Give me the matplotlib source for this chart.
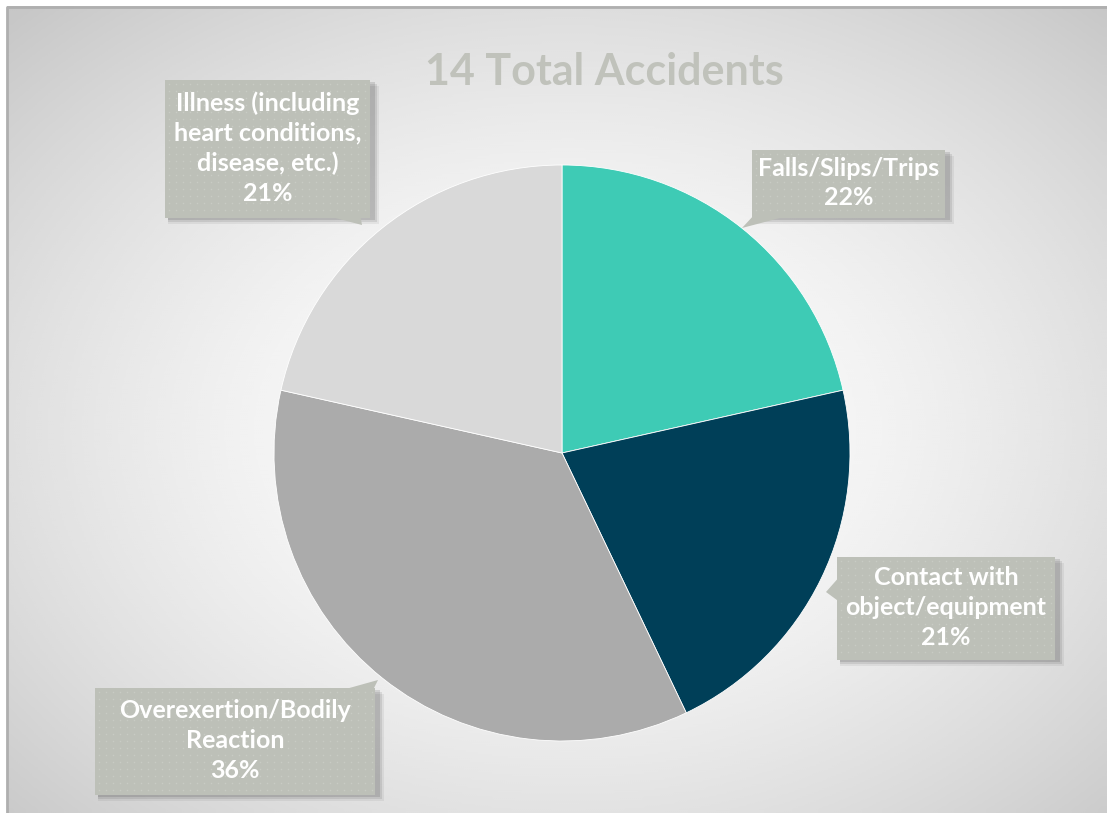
import matplotlib.pyplot as plt
import numpy as np
from matplotlib.patches import Rectangle, Polygon

title = '14 Total Accidents'
categories = ['Falls/Slips/Trips', 'Contact with\nobject/equipment',
              'Overexertion/Bodily\nReaction',
              'Illness (including\nheart conditions,\ndisease, etc.)']
shares = [21.5, 21.4, 35.6, 21.5]      # slice sizes
pct_labels = ['22%', '21%', '36%', '21%']
colors = ['#3ECBB5', '#003F58', '#ABABAB', '#D9D9D9']

W, H = 1107, 813
plt.rcParams['font.family'] = ['Lato', 'DejaVu Sans']

fig = plt.figure(figsize=(W / 100, H / 100), dpi=100)
ax = fig.add_axes([0, 0, 1, 1])

# radial background
yy, xx = np.mgrid[0:400, 0:550]
cx, cy = 280, 210
d = np.sqrt(((xx - cx) / 550) ** 2 + ((yy - cy) / 400) ** 2) / 0.72
d = np.clip(d, 0, 1)
bg = 1.0 - 0.22 * d ** 1.6
ax.imshow(bg, cmap='gray', vmin=0, vmax=1, extent=(7, W, 0, H - 7),
          interpolation='bicubic', zorder=0)
ax.plot([7, 7, W], [0, H - 7, H - 7], color='#AFAFAF', lw=2, zorder=1)

# pie, pixel coords with y up
cxp, cyp, r = 562, H - 453, 288
ax.pie(shares, colors=colors, startangle=90, counterclock=False,
       center=(cxp, cyp), radius=r,
       wedgeprops=dict(edgecolor='white', linewidth=0.6))

ax.text(604, H - 72, title, ha='center', va='center', fontsize=31,
        fontweight='bold', color='#C0C2BB')

# label boxes: (x0, y0, x1, y1) in pixels from top, pointer triangle
boxes = [
    ((752, 150, 945, 218), [(755, 214), (795, 214), (742, 228)]),
    ((837, 557, 1055, 660), [(841, 575), (841, 603), (826, 592)]),
    ((95, 688, 375, 795), [(335, 692), (372, 692), (378, 680)]),
    ((165, 80, 370, 218), [(320, 214), (360, 214), (362, 225)]),
]
box_col = '#BDC0B8'
for (x0, y0, x1, y1), tri in boxes:
    for k, a in [(6, 0.08), (4, 0.12), (2, 0.16)]:
        ax.add_patch(Rectangle((x0 + 3, H - y1 - k), x1 - x0 + k, y1 - y0,
                               color='#404040', alpha=a, lw=0, zorder=4))
    ax.add_patch(Rectangle((x0, H - y1), x1 - x0, y1 - y0, color=box_col,
                           lw=0, zorder=5))
    ax.add_patch(Polygon([(px, H - py) for px, py in tri], color=box_col,
                         lw=0, zorder=5))
    # faint dotted texture
    gx, gy = np.meshgrid(np.arange(x0 + 4, x1 - 2, 7),
                         np.arange(y0 + 4, y1 - 2, 7))
    ax.scatter(gx.ravel(), H - gy.ravel(), s=1.2, color='white', alpha=0.18,
               lw=0, zorder=5.5)

for (b, _), lab, pct in zip(boxes, categories, pct_labels):
    ax.text((b[0] + b[2]) / 2, H - (b[1] + b[3]) / 2 + 1, f'{lab}\n{pct}',
            ha='center', va='center', fontsize=18, fontweight='bold',
            color='white', linespacing=1.35, zorder=6)

ax.set_xlim(0, W)
ax.set_ylim(0, H)
ax.set_aspect('auto')
ax.axis('off')
fig.savefig('out.png', dpi=100, facecolor='white')
